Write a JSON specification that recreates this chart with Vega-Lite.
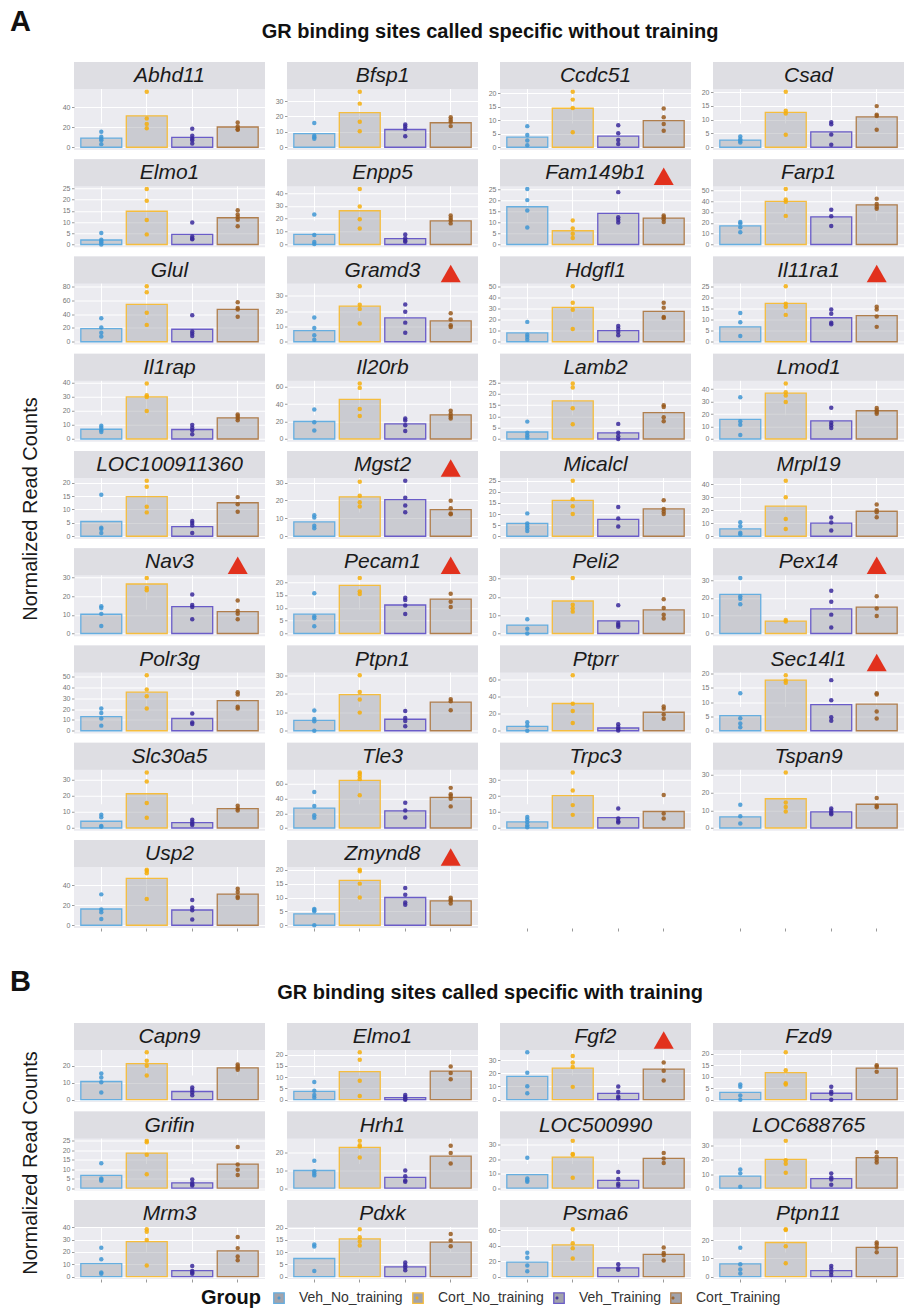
{
  "$schema": "https://vega.github.io/schema/vega-lite/v6.json",
  "padding": {"left": 10, "top": 8, "right": 0, "bottom": 0},
  "autosize": {"type": "pad"},
  "background": "white",
  "datasets": {
    "groups": [
      {"g": "VN", "group": "Veh_No_training"},
      {"g": "CN", "group": "Cort_No_training"},
      {"g": "VT", "group": "Veh_Training"},
      {"g": "CT", "group": "Cort_Training"}
    ],
    "a": [
      {"gene":"Abhd11","g":"VN","m":9.2},{"gene":"Abhd11","g":"VN","v":15.6},{"gene":"Abhd11","g":"VN","v":10.5},{"gene":"Abhd11","g":"VN","v":8.5},{"gene":"Abhd11","g":"VN","v":7.1},{"gene":"Abhd11","g":"VN","v":3.1},
      {"gene":"Abhd11","g":"CN","m":31.5},{"gene":"Abhd11","g":"CN","v":55.6},{"gene":"Abhd11","g":"CN","v":28.8},{"gene":"Abhd11","g":"CN","v":23.4},{"gene":"Abhd11","g":"CN","v":19},
      {"gene":"Abhd11","g":"VT","m":9.8},{"gene":"Abhd11","g":"VT","v":18.6},{"gene":"Abhd11","g":"VT","v":11.5},{"gene":"Abhd11","g":"VT","v":8.8},{"gene":"Abhd11","g":"VT","v":7.1},{"gene":"Abhd11","g":"VT","v":3.7},
      {"gene":"Abhd11","g":"CT","m":20.3},{"gene":"Abhd11","g":"CT","v":24.7},{"gene":"Abhd11","g":"CT","v":20.7},{"gene":"Abhd11","g":"CT","v":18},{"gene":"Abhd11","g":"CT","v":17.5},

      {"gene":"Bfsp1","g":"VN","m":8.8},{"gene":"Bfsp1","g":"VN","v":15.7},{"gene":"Bfsp1","g":"VN","v":7.5},{"gene":"Bfsp1","g":"VN","v":6.5},{"gene":"Bfsp1","g":"VN","v":5.5},
      {"gene":"Bfsp1","g":"CN","m":22.5},{"gene":"Bfsp1","g":"CN","v":36},{"gene":"Bfsp1","g":"CN","v":28.3},{"gene":"Bfsp1","g":"CN","v":16.6},{"gene":"Bfsp1","g":"CN","v":10.4},
      {"gene":"Bfsp1","g":"VT","m":11.5},{"gene":"Bfsp1","g":"VT","v":14.8},{"gene":"Bfsp1","g":"VT","v":13.5},{"gene":"Bfsp1","g":"VT","v":11.9},{"gene":"Bfsp1","g":"VT","v":7.1},
      {"gene":"Bfsp1","g":"CT","m":15.9},{"gene":"Bfsp1","g":"CT","v":19.4},{"gene":"Bfsp1","g":"CT","v":17.9},{"gene":"Bfsp1","g":"CT","v":16.6},{"gene":"Bfsp1","g":"CT","v":13.7},

      {"gene":"Ccdc51","g":"VN","m":3.7},{"gene":"Ccdc51","g":"VN","v":7.8},{"gene":"Ccdc51","g":"VN","v":4.5},{"gene":"Ccdc51","g":"VN","v":2.5},{"gene":"Ccdc51","g":"VN","v":0.7},
      {"gene":"Ccdc51","g":"CN","m":14.4},{"gene":"Ccdc51","g":"CN","v":20.5},{"gene":"Ccdc51","g":"CN","v":17.6},{"gene":"Ccdc51","g":"CN","v":14.5},{"gene":"Ccdc51","g":"CN","v":5.5},
      {"gene":"Ccdc51","g":"VT","m":4.1},{"gene":"Ccdc51","g":"VT","v":8.1},{"gene":"Ccdc51","g":"VT","v":5.2},{"gene":"Ccdc51","g":"VT","v":2.7},{"gene":"Ccdc51","g":"VT","v":1.2},
      {"gene":"Ccdc51","g":"CT","m":9.8},{"gene":"Ccdc51","g":"CT","v":14.3},{"gene":"Ccdc51","g":"CT","v":11.1},{"gene":"Ccdc51","g":"CT","v":8.6},{"gene":"Ccdc51","g":"CT","v":6.1},

      {"gene":"Csad","g":"VN","m":2.6},{"gene":"Csad","g":"VN","v":3.9},{"gene":"Csad","g":"VN","v":2.9},{"gene":"Csad","g":"VN","v":2.3},{"gene":"Csad","g":"VN","v":1.7},
      {"gene":"Csad","g":"CN","m":12.6},{"gene":"Csad","g":"CN","v":20.1},{"gene":"Csad","g":"CN","v":13.2},{"gene":"Csad","g":"CN","v":12.2},{"gene":"Csad","g":"CN","v":4.5},
      {"gene":"Csad","g":"VT","m":5.6},{"gene":"Csad","g":"VT","v":9.1},{"gene":"Csad","g":"VT","v":8.3},{"gene":"Csad","g":"VT","v":4.6},{"gene":"Csad","g":"VT","v":0.9},
      {"gene":"Csad","g":"CT","m":11},{"gene":"Csad","g":"CT","v":14.9},{"gene":"Csad","g":"CT","v":11.8},{"gene":"Csad","g":"CT","v":11.3},{"gene":"Csad","g":"CT","v":6.3},

      {"gene":"Elmo1","g":"VN","m":2},{"gene":"Elmo1","g":"VN","v":5.1},{"gene":"Elmo1","g":"VN","v":2.1},{"gene":"Elmo1","g":"VN","v":1.5},{"gene":"Elmo1","g":"VN","v":0.9},{"gene":"Elmo1","g":"VN","v":0},
      {"gene":"Elmo1","g":"CN","m":14.8},{"gene":"Elmo1","g":"CN","v":24.7},{"gene":"Elmo1","g":"CN","v":19.5},{"gene":"Elmo1","g":"CN","v":10.9},{"gene":"Elmo1","g":"CN","v":4.5},
      {"gene":"Elmo1","g":"VT","m":4.5},{"gene":"Elmo1","g":"VT","v":9.8},{"gene":"Elmo1","g":"VT","v":3.6},{"gene":"Elmo1","g":"VT","v":2.7},{"gene":"Elmo1","g":"VT","v":2.3},
      {"gene":"Elmo1","g":"CT","m":11.9},{"gene":"Elmo1","g":"CT","v":15.2},{"gene":"Elmo1","g":"CT","v":13.4},{"gene":"Elmo1","g":"CT","v":12.2},{"gene":"Elmo1","g":"CT","v":11},{"gene":"Elmo1","g":"CT","v":8.1},

      {"gene":"Enpp5","g":"VN","m":7.9},{"gene":"Enpp5","g":"VN","v":23.3},{"gene":"Enpp5","g":"VN","v":7.4},{"gene":"Enpp5","g":"VN","v":1.9},{"gene":"Enpp5","g":"VN","v":0.3},
      {"gene":"Enpp5","g":"CN","m":26.2},{"gene":"Enpp5","g":"CN","v":43.1},{"gene":"Enpp5","g":"CN","v":29.6},{"gene":"Enpp5","g":"CN","v":19.6},{"gene":"Enpp5","g":"CN","v":12.4},
      {"gene":"Enpp5","g":"VT","m":4.5},{"gene":"Enpp5","g":"VT","v":7.7},{"gene":"Enpp5","g":"VT","v":4.8},{"gene":"Enpp5","g":"VT","v":2.9},{"gene":"Enpp5","g":"VT","v":2.1},
      {"gene":"Enpp5","g":"CT","m":18.3},{"gene":"Enpp5","g":"CT","v":22.5},{"gene":"Enpp5","g":"CT","v":20.6},{"gene":"Enpp5","g":"CT","v":18.8},{"gene":"Enpp5","g":"CT","v":16.4},

      {"gene":"Fam149b1","flag":true},
      {"gene":"Fam149b1","g":"VN","m":17},{"gene":"Fam149b1","g":"VN","v":25},{"gene":"Fam149b1","g":"VN","v":20},{"gene":"Fam149b1","g":"VN","v":15.3},{"gene":"Fam149b1","g":"VN","v":7.7},
      {"gene":"Fam149b1","g":"CN","m":6.2},{"gene":"Fam149b1","g":"CN","v":10.8},{"gene":"Fam149b1","g":"CN","v":7.2},{"gene":"Fam149b1","g":"CN","v":4.8},{"gene":"Fam149b1","g":"CN","v":2.9},
      {"gene":"Fam149b1","g":"VT","m":14},{"gene":"Fam149b1","g":"VT","v":23.6},{"gene":"Fam149b1","g":"VT","v":12.3},{"gene":"Fam149b1","g":"VT","v":11.1},{"gene":"Fam149b1","g":"VT","v":9.9},
      {"gene":"Fam149b1","g":"CT","m":11.9},{"gene":"Fam149b1","g":"CT","v":13.1},{"gene":"Fam149b1","g":"CT","v":12.3},{"gene":"Fam149b1","g":"CT","v":11.4},{"gene":"Fam149b1","g":"CT","v":10.1},

      {"gene":"Farp1","g":"VN","m":17.1},{"gene":"Farp1","g":"VN","v":20.8},{"gene":"Farp1","g":"VN","v":19.3},{"gene":"Farp1","g":"VN","v":15.8},{"gene":"Farp1","g":"VN","v":11.2},
      {"gene":"Farp1","g":"CN","m":39.8},{"gene":"Farp1","g":"CN","v":51.2},{"gene":"Farp1","g":"CN","v":41.6},{"gene":"Farp1","g":"CN","v":39.4},{"gene":"Farp1","g":"CN","v":26.4},
      {"gene":"Farp1","g":"VT","m":25.5},{"gene":"Farp1","g":"VT","v":32},{"gene":"Farp1","g":"VT","v":26.1},{"gene":"Farp1","g":"VT","v":17.1},
      {"gene":"Farp1","g":"CT","m":36.6},{"gene":"Farp1","g":"CT","v":42.2},{"gene":"Farp1","g":"CT","v":37.3},{"gene":"Farp1","g":"CT","v":34.8},{"gene":"Farp1","g":"CT","v":32.9},

      {"gene":"Glul","g":"VN","m":18.9},{"gene":"Glul","g":"VN","v":34},{"gene":"Glul","g":"VN","v":20.5},{"gene":"Glul","g":"VN","v":13},{"gene":"Glul","g":"VN","v":7.5},
      {"gene":"Glul","g":"CN","m":53.9},{"gene":"Glul","g":"CN","v":80},{"gene":"Glul","g":"CN","v":71.4},{"gene":"Glul","g":"CN","v":41.7},{"gene":"Glul","g":"CN","v":24.3},
      {"gene":"Glul","g":"VT","m":18},{"gene":"Glul","g":"VT","v":38.3},{"gene":"Glul","g":"VT","v":14.6},{"gene":"Glul","g":"VT","v":11.7},{"gene":"Glul","g":"VT","v":8.3},
      {"gene":"Glul","g":"CT","m":46.6},{"gene":"Glul","g":"CT","v":56.8},{"gene":"Glul","g":"CT","v":48.5},{"gene":"Glul","g":"CT","v":46.5},{"gene":"Glul","g":"CT","v":36},

      {"gene":"Gramd3","flag":true},
      {"gene":"Gramd3","g":"VN","m":7.3},{"gene":"Gramd3","g":"VN","v":15.8},{"gene":"Gramd3","g":"VN","v":9},{"gene":"Gramd3","g":"VN","v":4.2},{"gene":"Gramd3","g":"VN","v":1.3},
      {"gene":"Gramd3","g":"CN","m":23.3},{"gene":"Gramd3","g":"CN","v":36.3},{"gene":"Gramd3","g":"CN","v":24.2},{"gene":"Gramd3","g":"CN","v":21.5},{"gene":"Gramd3","g":"CN","v":11.9},
      {"gene":"Gramd3","g":"VT","m":15.6},{"gene":"Gramd3","g":"VT","v":24.4},{"gene":"Gramd3","g":"VT","v":19.6},{"gene":"Gramd3","g":"VT","v":12.5},{"gene":"Gramd3","g":"VT","v":5.9},
      {"gene":"Gramd3","g":"CT","m":13.6},{"gene":"Gramd3","g":"CT","v":18.7},{"gene":"Gramd3","g":"CT","v":14.5},{"gene":"Gramd3","g":"CT","v":10.8},{"gene":"Gramd3","g":"CT","v":9.7},

      {"gene":"Hdgfl1","g":"VN","m":7.9},{"gene":"Hdgfl1","g":"VN","v":17.9},{"gene":"Hdgfl1","g":"VN","v":6.4},{"gene":"Hdgfl1","g":"VN","v":4.2},{"gene":"Hdgfl1","g":"VN","v":1.8},
      {"gene":"Hdgfl1","g":"CN","m":30.9},{"gene":"Hdgfl1","g":"CN","v":50},{"gene":"Hdgfl1","g":"CN","v":35.2},{"gene":"Hdgfl1","g":"CN","v":28.8},{"gene":"Hdgfl1","g":"CN","v":11.5},
      {"gene":"Hdgfl1","g":"VT","m":10},{"gene":"Hdgfl1","g":"VT","v":14.2},{"gene":"Hdgfl1","g":"VT","v":11.8},{"gene":"Hdgfl1","g":"VT","v":8.8},{"gene":"Hdgfl1","g":"VT","v":5.8},
      {"gene":"Hdgfl1","g":"CT","m":27.3},{"gene":"Hdgfl1","g":"CT","v":35.2},{"gene":"Hdgfl1","g":"CT","v":30.6},{"gene":"Hdgfl1","g":"CT","v":22.4},{"gene":"Hdgfl1","g":"CT","v":21.5},

      {"gene":"Il11ra1","flag":true},
      {"gene":"Il11ra1","g":"VN","m":6.7},{"gene":"Il11ra1","g":"VN","v":13},{"gene":"Il11ra1","g":"VN","v":8.8},{"gene":"Il11ra1","g":"VN","v":2.6},
      {"gene":"Il11ra1","g":"CN","m":17.3},{"gene":"Il11ra1","g":"CN","v":25},{"gene":"Il11ra1","g":"CN","v":17.1},{"gene":"Il11ra1","g":"CN","v":15.8},{"gene":"Il11ra1","g":"CN","v":12.1},
      {"gene":"Il11ra1","g":"VT","m":10.8},{"gene":"Il11ra1","g":"VT","v":14.5},{"gene":"Il11ra1","g":"VT","v":12.6},{"gene":"Il11ra1","g":"VT","v":8.6},{"gene":"Il11ra1","g":"VT","v":7.9},
      {"gene":"Il11ra1","g":"CT","m":11.8},{"gene":"Il11ra1","g":"CT","v":15.8},{"gene":"Il11ra1","g":"CT","v":14.5},{"gene":"Il11ra1","g":"CT","v":11.4},{"gene":"Il11ra1","g":"CT","v":6.7},

      {"gene":"Il1rap","g":"VN","m":6.9},{"gene":"Il1rap","g":"VN","v":9.3},{"gene":"Il1rap","g":"VN","v":7.9},{"gene":"Il1rap","g":"VN","v":6.2},{"gene":"Il1rap","g":"VN","v":5},
      {"gene":"Il1rap","g":"CN","m":29.8},{"gene":"Il1rap","g":"CN","v":39.3},{"gene":"Il1rap","g":"CN","v":31},{"gene":"Il1rap","g":"CN","v":29.8},{"gene":"Il1rap","g":"CN","v":19.8},
      {"gene":"Il1rap","g":"VT","m":6.7},{"gene":"Il1rap","g":"VT","v":10},{"gene":"Il1rap","g":"VT","v":7.9},{"gene":"Il1rap","g":"VT","v":6.2},{"gene":"Il1rap","g":"VT","v":3.3},
      {"gene":"Il1rap","g":"CT","m":15},{"gene":"Il1rap","g":"CT","v":17.4},{"gene":"Il1rap","g":"CT","v":16.2},{"gene":"Il1rap","g":"CT","v":14.8},{"gene":"Il1rap","g":"CT","v":13.3},

      {"gene":"Il20rb","g":"VN","m":20},{"gene":"Il20rb","g":"VN","v":33.8},{"gene":"Il20rb","g":"VN","v":19.2},{"gene":"Il20rb","g":"VN","v":9.6},
      {"gene":"Il20rb","g":"CN","m":45.4},{"gene":"Il20rb","g":"CN","v":63.5},{"gene":"Il20rb","g":"CN","v":58.5},{"gene":"Il20rb","g":"CN","v":34.2},{"gene":"Il20rb","g":"CN","v":26.2},
      {"gene":"Il20rb","g":"VT","m":17.3},{"gene":"Il20rb","g":"VT","v":23.5},{"gene":"Il20rb","g":"VT","v":21.2},{"gene":"Il20rb","g":"VT","v":15.8},{"gene":"Il20rb","g":"VT","v":9.2},
      {"gene":"Il20rb","g":"CT","m":27.7},{"gene":"Il20rb","g":"CT","v":32.3},{"gene":"Il20rb","g":"CT","v":28.5},{"gene":"Il20rb","g":"CT","v":25.8},{"gene":"Il20rb","g":"CT","v":23.5},

      {"gene":"Lamb2","g":"VN","m":3.1},{"gene":"Lamb2","g":"VN","v":7.7},{"gene":"Lamb2","g":"VN","v":2.8},{"gene":"Lamb2","g":"VN","v":1.5},{"gene":"Lamb2","g":"VN","v":0.6},
      {"gene":"Lamb2","g":"CN","m":16.9},{"gene":"Lamb2","g":"CN","v":24.6},{"gene":"Lamb2","g":"CN","v":22.8},{"gene":"Lamb2","g":"CN","v":13.6},{"gene":"Lamb2","g":"CN","v":6.5},
      {"gene":"Lamb2","g":"VT","m":2.7},{"gene":"Lamb2","g":"VT","v":6.7},{"gene":"Lamb2","g":"VT","v":2.8},{"gene":"Lamb2","g":"VT","v":1.2},{"gene":"Lamb2","g":"VT","v":0},
      {"gene":"Lamb2","g":"CT","m":11.7},{"gene":"Lamb2","g":"CT","v":15},{"gene":"Lamb2","g":"CT","v":14.2},{"gene":"Lamb2","g":"CT","v":9.6},{"gene":"Lamb2","g":"CT","v":7.9},

      {"gene":"Lmod1","g":"VN","m":15.7},{"gene":"Lmod1","g":"VN","v":33.5},{"gene":"Lmod1","g":"VN","v":14.3},{"gene":"Lmod1","g":"VN","v":11.4},{"gene":"Lmod1","g":"VN","v":3.2},
      {"gene":"Lmod1","g":"CN","m":36.8},{"gene":"Lmod1","g":"CN","v":44.6},{"gene":"Lmod1","g":"CN","v":37.6},{"gene":"Lmod1","g":"CN","v":34.9},{"gene":"Lmod1","g":"CN","v":29.7},
      {"gene":"Lmod1","g":"VT","m":14.6},{"gene":"Lmod1","g":"VT","v":25.1},{"gene":"Lmod1","g":"VT","v":13},{"gene":"Lmod1","g":"VT","v":11.1},{"gene":"Lmod1","g":"VT","v":8.9},
      {"gene":"Lmod1","g":"CT","m":22.7},{"gene":"Lmod1","g":"CT","v":24.9},{"gene":"Lmod1","g":"CT","v":23.2},{"gene":"Lmod1","g":"CT","v":21.6},{"gene":"Lmod1","g":"CT","v":20.3},

      {"gene":"LOC100911360","g":"VN","m":5.5},{"gene":"LOC100911360","g":"VN","v":15.5},{"gene":"LOC100911360","g":"VN","v":3.2},{"gene":"LOC100911360","g":"VN","v":2.7},{"gene":"LOC100911360","g":"VN","v":1.2},
      {"gene":"LOC100911360","g":"CN","m":14.8},{"gene":"LOC100911360","g":"CN","v":20.7},{"gene":"LOC100911360","g":"CN","v":18.5},{"gene":"LOC100911360","g":"CN","v":11},{"gene":"LOC100911360","g":"CN","v":8.9},
      {"gene":"LOC100911360","g":"VT","m":3.6},{"gene":"LOC100911360","g":"VT","v":5.7},{"gene":"LOC100911360","g":"VT","v":4.9},{"gene":"LOC100911360","g":"VT","v":4},{"gene":"LOC100911360","g":"VT","v":1.2},
      {"gene":"LOC100911360","g":"CT","m":12.5},{"gene":"LOC100911360","g":"CT","v":14.6},{"gene":"LOC100911360","g":"CT","v":11.9},{"gene":"LOC100911360","g":"CT","v":9.1},

      {"gene":"Mgst2","flag":true},
      {"gene":"Mgst2","g":"VN","m":8},{"gene":"Mgst2","g":"VN","v":11.7},{"gene":"Mgst2","g":"VN","v":10.4},{"gene":"Mgst2","g":"VN","v":5.8},{"gene":"Mgst2","g":"VN","v":4.5},
      {"gene":"Mgst2","g":"CN","m":22},{"gene":"Mgst2","g":"CN","v":30.4},{"gene":"Mgst2","g":"CN","v":22.6},{"gene":"Mgst2","g":"CN","v":19},{"gene":"Mgst2","g":"CN","v":16.6},
      {"gene":"Mgst2","g":"VT","m":20.5},{"gene":"Mgst2","g":"VT","v":31},{"gene":"Mgst2","g":"VT","v":21.5},{"gene":"Mgst2","g":"VT","v":17.2},{"gene":"Mgst2","g":"VT","v":13.4},
      {"gene":"Mgst2","g":"CT","m":14.9},{"gene":"Mgst2","g":"CT","v":19.8},{"gene":"Mgst2","g":"CT","v":15.7},{"gene":"Mgst2","g":"CT","v":12.7},{"gene":"Mgst2","g":"CT","v":12.3},

      {"gene":"Micalcl","g":"VN","m":5.8},{"gene":"Micalcl","g":"VN","v":10.3},{"gene":"Micalcl","g":"VN","v":5.8},{"gene":"Micalcl","g":"VN","v":4.7},{"gene":"Micalcl","g":"VN","v":3.6},{"gene":"Micalcl","g":"VN","v":2.4},
      {"gene":"Micalcl","g":"CN","m":16.2},{"gene":"Micalcl","g":"CN","v":25},{"gene":"Micalcl","g":"CN","v":16.7},{"gene":"Micalcl","g":"CN","v":13.5},{"gene":"Micalcl","g":"CN","v":10},
      {"gene":"Micalcl","g":"VT","m":7.6},{"gene":"Micalcl","g":"VT","v":13.2},{"gene":"Micalcl","g":"VT","v":8},{"gene":"Micalcl","g":"VT","v":4.4},
      {"gene":"Micalcl","g":"CT","m":12.3},{"gene":"Micalcl","g":"CT","v":16.2},{"gene":"Micalcl","g":"CT","v":12.3},{"gene":"Micalcl","g":"CT","v":11.1},{"gene":"Micalcl","g":"CT","v":10},

      {"gene":"Mrpl19","g":"VN","m":5.6},{"gene":"Mrpl19","g":"VN","v":10.8},{"gene":"Mrpl19","g":"VN","v":7.7},{"gene":"Mrpl19","g":"VN","v":2.6},{"gene":"Mrpl19","g":"VN","v":1.5},
      {"gene":"Mrpl19","g":"CN","m":23.1},{"gene":"Mrpl19","g":"CN","v":42.6},{"gene":"Mrpl19","g":"CN","v":30},{"gene":"Mrpl19","g":"CN","v":13.3},{"gene":"Mrpl19","g":"CN","v":5.6},
      {"gene":"Mrpl19","g":"VT","m":10},{"gene":"Mrpl19","g":"VT","v":14.4},{"gene":"Mrpl19","g":"VT","v":10.5},{"gene":"Mrpl19","g":"VT","v":4.4},
      {"gene":"Mrpl19","g":"CT","m":19.2},{"gene":"Mrpl19","g":"CT","v":24.4},{"gene":"Mrpl19","g":"CT","v":20},{"gene":"Mrpl19","g":"CT","v":18.5},{"gene":"Mrpl19","g":"CT","v":14.6},

      {"gene":"Nav3","flag":true},
      {"gene":"Nav3","g":"VN","m":10.3},{"gene":"Nav3","g":"VN","v":14.6},{"gene":"Nav3","g":"VN","v":13.7},{"gene":"Nav3","g":"VN","v":10.5},{"gene":"Nav3","g":"VN","v":4},
      {"gene":"Nav3","g":"CN","m":26.5},{"gene":"Nav3","g":"CN","v":29.7},{"gene":"Nav3","g":"CN","v":24.3},{"gene":"Nav3","g":"CN","v":23.2},
      {"gene":"Nav3","g":"VT","m":14.4},{"gene":"Nav3","g":"VT","v":20.9},{"gene":"Nav3","g":"VT","v":15.3},{"gene":"Nav3","g":"VT","v":14.2},{"gene":"Nav3","g":"VT","v":7.6},
      {"gene":"Nav3","g":"CT","m":11.7},{"gene":"Nav3","g":"CT","v":17.7},{"gene":"Nav3","g":"CT","v":12.1},{"gene":"Nav3","g":"CT","v":10.6},{"gene":"Nav3","g":"CT","v":7.6},

      {"gene":"Pecam1","flag":true},
      {"gene":"Pecam1","g":"VN","m":7.5},{"gene":"Pecam1","g":"VN","v":15.7},{"gene":"Pecam1","g":"VN","v":6.7},{"gene":"Pecam1","g":"VN","v":5.9},{"gene":"Pecam1","g":"VN","v":2.8},
      {"gene":"Pecam1","g":"CN","m":18.7},{"gene":"Pecam1","g":"CN","v":21.6},{"gene":"Pecam1","g":"CN","v":16.4},{"gene":"Pecam1","g":"CN","v":15.4},
      {"gene":"Pecam1","g":"VT","m":11.1},{"gene":"Pecam1","g":"VT","v":13.9},{"gene":"Pecam1","g":"VT","v":13},{"gene":"Pecam1","g":"VT","v":10.9},{"gene":"Pecam1","g":"VT","v":7.6},
      {"gene":"Pecam1","g":"CT","m":13.4},{"gene":"Pecam1","g":"CT","v":15.5},{"gene":"Pecam1","g":"CT","v":12.4},{"gene":"Pecam1","g":"CT","v":10.3},

      {"gene":"Peli2","g":"VN","m":4.6},{"gene":"Peli2","g":"VN","v":7.7},{"gene":"Peli2","g":"VN","v":2.6},{"gene":"Peli2","g":"VN","v":0},
      {"gene":"Peli2","g":"CN","m":17.7},{"gene":"Peli2","g":"CN","v":30.2},{"gene":"Peli2","g":"CN","v":15.7},{"gene":"Peli2","g":"CN","v":13.7},{"gene":"Peli2","g":"CN","v":11.9},
      {"gene":"Peli2","g":"VT","m":6.9},{"gene":"Peli2","g":"VT","v":15.4},{"gene":"Peli2","g":"VT","v":5.7},{"gene":"Peli2","g":"VT","v":4.6},{"gene":"Peli2","g":"VT","v":3.7},
      {"gene":"Peli2","g":"CT","m":12.8},{"gene":"Peli2","g":"CT","v":18.6},{"gene":"Peli2","g":"CT","v":13.9},{"gene":"Peli2","g":"CT","v":10.2},{"gene":"Peli2","g":"CT","v":8.2},

      {"gene":"Pex14","flag":true},
      {"gene":"Pex14","g":"VN","m":22},{"gene":"Pex14","g":"VN","v":31.2},{"gene":"Pex14","g":"VN","v":21},{"gene":"Pex14","g":"VN","v":19.5},{"gene":"Pex14","g":"VN","v":16.5},
      {"gene":"Pex14","g":"CN","m":7},{"gene":"Pex14","g":"CN","v":7.6},{"gene":"Pex14","g":"CN","v":6.8},
      {"gene":"Pex14","g":"VT","m":13.8},{"gene":"Pex14","g":"VT","v":24},{"gene":"Pex14","g":"VT","v":17.8},{"gene":"Pex14","g":"VT","v":10.6},{"gene":"Pex14","g":"VT","v":3.4},
      {"gene":"Pex14","g":"CT","m":14.8},{"gene":"Pex14","g":"CT","v":21},{"gene":"Pex14","g":"CT","v":14},{"gene":"Pex14","g":"CT","v":9.8},

      {"gene":"Polr3g","g":"VN","m":13.1},{"gene":"Polr3g","g":"VN","v":20.6},{"gene":"Polr3g","g":"VN","v":16.3},{"gene":"Polr3g","g":"VN","v":11.3},{"gene":"Polr3g","g":"VN","v":4.7},
      {"gene":"Polr3g","g":"CN","m":35.6},{"gene":"Polr3g","g":"CN","v":51.2},{"gene":"Polr3g","g":"CN","v":38.1},{"gene":"Polr3g","g":"CN","v":31.9},{"gene":"Polr3g","g":"CN","v":20.6},
      {"gene":"Polr3g","g":"VT","m":11.3},{"gene":"Polr3g","g":"VT","v":15.9},{"gene":"Polr3g","g":"VT","v":7.5},{"gene":"Polr3g","g":"VT","v":6.3},
      {"gene":"Polr3g","g":"CT","m":27.8},{"gene":"Polr3g","g":"CT","v":35.6},{"gene":"Polr3g","g":"CT","v":33.4},{"gene":"Polr3g","g":"CT","v":22.2},{"gene":"Polr3g","g":"CT","v":20.6},

      {"gene":"Ptpn1","g":"VN","m":5.6},{"gene":"Ptpn1","g":"VN","v":10.9},{"gene":"Ptpn1","g":"VN","v":6.4},{"gene":"Ptpn1","g":"VN","v":5.1},{"gene":"Ptpn1","g":"VN","v":0},
      {"gene":"Ptpn1","g":"CN","m":19.5},{"gene":"Ptpn1","g":"CN","v":30},{"gene":"Ptpn1","g":"CN","v":20.9},{"gene":"Ptpn1","g":"CN","v":16.9},{"gene":"Ptpn1","g":"CN","v":9.8},
      {"gene":"Ptpn1","g":"VT","m":6.2},{"gene":"Ptpn1","g":"VT","v":10.7},{"gene":"Ptpn1","g":"VT","v":6.9},{"gene":"Ptpn1","g":"VT","v":5.3},{"gene":"Ptpn1","g":"VT","v":2.4},
      {"gene":"Ptpn1","g":"CT","m":15.5},{"gene":"Ptpn1","g":"CT","v":17.1},{"gene":"Ptpn1","g":"CT","v":16},{"gene":"Ptpn1","g":"CT","v":11.1},

      {"gene":"Ptprr","g":"VN","m":5.1},{"gene":"Ptprr","g":"VN","v":9.9},{"gene":"Ptprr","g":"VN","v":5.9},{"gene":"Ptprr","g":"VN","v":0},
      {"gene":"Ptprr","g":"CN","m":32},{"gene":"Ptprr","g":"CN","v":65.2},{"gene":"Ptprr","g":"CN","v":31.6},{"gene":"Ptprr","g":"CN","v":23.3},{"gene":"Ptprr","g":"CN","v":9.1},
      {"gene":"Ptprr","g":"VT","m":3.2},{"gene":"Ptprr","g":"VT","v":7.5},{"gene":"Ptprr","g":"VT","v":4.3},{"gene":"Ptprr","g":"VT","v":2},{"gene":"Ptprr","g":"VT","v":0.4},
      {"gene":"Ptprr","g":"CT","m":21.7},{"gene":"Ptprr","g":"CT","v":28.5},{"gene":"Ptprr","g":"CT","v":25.7},{"gene":"Ptprr","g":"CT","v":19},{"gene":"Ptprr","g":"CT","v":14.2},

      {"gene":"Sec14l1","flag":true},
      {"gene":"Sec14l1","g":"VN","m":5.3},{"gene":"Sec14l1","g":"VN","v":13.1},{"gene":"Sec14l1","g":"VN","v":4.4},{"gene":"Sec14l1","g":"VN","v":2.5},{"gene":"Sec14l1","g":"VN","v":1.2},
      {"gene":"Sec14l1","g":"CN","m":17.7},{"gene":"Sec14l1","g":"CN","v":19.4},{"gene":"Sec14l1","g":"CN","v":17.6},{"gene":"Sec14l1","g":"CN","v":16.8},
      {"gene":"Sec14l1","g":"VT","m":9.1},{"gene":"Sec14l1","g":"VT","v":17.7},{"gene":"Sec14l1","g":"VT","v":10.7},{"gene":"Sec14l1","g":"VT","v":4.7},{"gene":"Sec14l1","g":"VT","v":3.5},
      {"gene":"Sec14l1","g":"CT","m":9.3},{"gene":"Sec14l1","g":"CT","v":13.1},{"gene":"Sec14l1","g":"CT","v":12.7},{"gene":"Sec14l1","g":"CT","v":6.7},{"gene":"Sec14l1","g":"CT","v":4.3},

      {"gene":"Slc30a5","g":"VN","m":4.2},{"gene":"Slc30a5","g":"VN","v":8.2},{"gene":"Slc30a5","g":"VN","v":6.7},{"gene":"Slc30a5","g":"VN","v":1.3},{"gene":"Slc30a5","g":"VN","v":0.8},
      {"gene":"Slc30a5","g":"CN","m":21.3},{"gene":"Slc30a5","g":"CN","v":34.5},{"gene":"Slc30a5","g":"CN","v":28.9},{"gene":"Slc30a5","g":"CN","v":15.5},{"gene":"Slc30a5","g":"CN","v":6.3},
      {"gene":"Slc30a5","g":"VT","m":3.3},{"gene":"Slc30a5","g":"VT","v":5.2},{"gene":"Slc30a5","g":"VT","v":3.8},{"gene":"Slc30a5","g":"VT","v":2.7},{"gene":"Slc30a5","g":"VT","v":1.9},
      {"gene":"Slc30a5","g":"CT","m":12.1},{"gene":"Slc30a5","g":"CT","v":13.8},{"gene":"Slc30a5","g":"CT","v":12.1},{"gene":"Slc30a5","g":"CT","v":10.9},

      {"gene":"Tle3","g":"VN","m":27},{"gene":"Tle3","g":"VN","v":49},{"gene":"Tle3","g":"VN","v":29.8},{"gene":"Tle3","g":"VN","v":17.4},{"gene":"Tle3","g":"VN","v":13.8},
      {"gene":"Tle3","g":"CN","m":64.7},{"gene":"Tle3","g":"CN","v":75.5},{"gene":"Tle3","g":"CN","v":73.6},{"gene":"Tle3","g":"CN","v":70.2},{"gene":"Tle3","g":"CN","v":66.5},{"gene":"Tle3","g":"CN","v":44.5},
      {"gene":"Tle3","g":"VT","m":23.4},{"gene":"Tle3","g":"VT","v":34.4},{"gene":"Tle3","g":"VT","v":23.9},{"gene":"Tle3","g":"VT","v":14.2},
      {"gene":"Tle3","g":"CT","m":41.7},{"gene":"Tle3","g":"CT","v":54.6},{"gene":"Tle3","g":"CT","v":45.9},{"gene":"Tle3","g":"CT","v":43.6},{"gene":"Tle3","g":"CT","v":39.9},{"gene":"Tle3","g":"CT","v":29.4},

      {"gene":"Trpc3","g":"VN","m":3.8},{"gene":"Trpc3","g":"VN","v":6.9},{"gene":"Trpc3","g":"VN","v":5.3},{"gene":"Trpc3","g":"VN","v":3.6},{"gene":"Trpc3","g":"VN","v":1.7},{"gene":"Trpc3","g":"VN","v":0.4},
      {"gene":"Trpc3","g":"CN","m":20.2},{"gene":"Trpc3","g":"CN","v":34.7},{"gene":"Trpc3","g":"CN","v":23.4},{"gene":"Trpc3","g":"CN","v":14.3},{"gene":"Trpc3","g":"CN","v":8.2},
      {"gene":"Trpc3","g":"VT","m":6.5},{"gene":"Trpc3","g":"VT","v":12.2},{"gene":"Trpc3","g":"VT","v":5.9},{"gene":"Trpc3","g":"VT","v":4.2},{"gene":"Trpc3","g":"VT","v":3.4},
      {"gene":"Trpc3","g":"CT","m":10.3},{"gene":"Trpc3","g":"CT","v":20.6},{"gene":"Trpc3","g":"CT","v":9.1},{"gene":"Trpc3","g":"CT","v":5.9},

      {"gene":"Tspan9","g":"VN","m":6.3},{"gene":"Tspan9","g":"VN","v":13.1},{"gene":"Tspan9","g":"VN","v":6.6},{"gene":"Tspan9","g":"VN","v":2.5},
      {"gene":"Tspan9","g":"CN","m":16.5},{"gene":"Tspan9","g":"CN","v":31.3},{"gene":"Tspan9","g":"CN","v":14.4},{"gene":"Tspan9","g":"CN","v":11.9},{"gene":"Tspan9","g":"CN","v":9.3},
      {"gene":"Tspan9","g":"VT","m":9.1},{"gene":"Tspan9","g":"VT","v":11},{"gene":"Tspan9","g":"VT","v":9.7},{"gene":"Tspan9","g":"VT","v":8.5},{"gene":"Tspan9","g":"VT","v":7.8},
      {"gene":"Tspan9","g":"CT","m":13.4},{"gene":"Tspan9","g":"CT","v":16.9},{"gene":"Tspan9","g":"CT","v":12.5},{"gene":"Tspan9","g":"CT","v":11.7},

      {"gene":"Usp2","g":"VN","m":16.3},{"gene":"Usp2","g":"VN","v":31},{"gene":"Usp2","g":"VN","v":15.7},{"gene":"Usp2","g":"VN","v":13},{"gene":"Usp2","g":"VN","v":6.3},
      {"gene":"Usp2","g":"CN","m":47},{"gene":"Usp2","g":"CN","v":55.7},{"gene":"Usp2","g":"CN","v":54.5},{"gene":"Usp2","g":"CN","v":52.3},{"gene":"Usp2","g":"CN","v":26.3},
      {"gene":"Usp2","g":"VT","m":15.3},{"gene":"Usp2","g":"VT","v":25.3},{"gene":"Usp2","g":"VT","v":17.7},{"gene":"Usp2","g":"VT","v":15},{"gene":"Usp2","g":"VT","v":5.7},
      {"gene":"Usp2","g":"CT","m":31.3},{"gene":"Usp2","g":"CT","v":36.7},{"gene":"Usp2","g":"CT","v":33.3},{"gene":"Usp2","g":"CT","v":28.7},{"gene":"Usp2","g":"CT","v":27.3},

      {"gene":"Zmynd8","flag":true},
      {"gene":"Zmynd8","g":"VN","m":4.1},{"gene":"Zmynd8","g":"VN","v":5.9},{"gene":"Zmynd8","g":"VN","v":5.5},{"gene":"Zmynd8","g":"VN","v":5},{"gene":"Zmynd8","g":"VN","v":0},
      {"gene":"Zmynd8","g":"CN","m":16.2},{"gene":"Zmynd8","g":"CN","v":20},{"gene":"Zmynd8","g":"CN","v":19.5},{"gene":"Zmynd8","g":"CN","v":15},{"gene":"Zmynd8","g":"CN","v":10},
      {"gene":"Zmynd8","g":"VT","m":10},{"gene":"Zmynd8","g":"VT","v":13.4},{"gene":"Zmynd8","g":"VT","v":11},{"gene":"Zmynd8","g":"VT","v":8.2},{"gene":"Zmynd8","g":"VT","v":7.4},
      {"gene":"Zmynd8","g":"CT","m":8.8},{"gene":"Zmynd8","g":"CT","v":9.9},{"gene":"Zmynd8","g":"CT","v":9.2},{"gene":"Zmynd8","g":"CT","v":8.8},{"gene":"Zmynd8","g":"CT","v":7.8}
    ],
    "b": [
      {"gene":"Capn9","g":"VN","m":10.7},{"gene":"Capn9","g":"VN","v":15.4},{"gene":"Capn9","g":"VN","v":13.1},{"gene":"Capn9","g":"VN","v":10.3},{"gene":"Capn9","g":"VN","v":4.2},
      {"gene":"Capn9","g":"CN","m":21.2},{"gene":"Capn9","g":"CN","v":27.9},{"gene":"Capn9","g":"CN","v":23},{"gene":"Capn9","g":"CN","v":20},{"gene":"Capn9","g":"CN","v":14.3},
      {"gene":"Capn9","g":"VT","m":4.8},{"gene":"Capn9","g":"VT","v":7.1},{"gene":"Capn9","g":"VT","v":5.7},{"gene":"Capn9","g":"VT","v":4.2},{"gene":"Capn9","g":"VT","v":2.6},
      {"gene":"Capn9","g":"CT","m":18.8},{"gene":"Capn9","g":"CT","v":20.8},{"gene":"Capn9","g":"CT","v":19.6},{"gene":"Capn9","g":"CT","v":18.6},{"gene":"Capn9","g":"CT","v":17.6},

      {"gene":"Elmo1","g":"VN","m":3.7},{"gene":"Elmo1","g":"VN","v":7.8},{"gene":"Elmo1","g":"VN","v":3.9},{"gene":"Elmo1","g":"VN","v":2.1},{"gene":"Elmo1","g":"VN","v":0.9},
      {"gene":"Elmo1","g":"CN","m":12.4},{"gene":"Elmo1","g":"CN","v":21},{"gene":"Elmo1","g":"CN","v":17.7},{"gene":"Elmo1","g":"CN","v":8.4},{"gene":"Elmo1","g":"CN","v":1.6},
      {"gene":"Elmo1","g":"VT","m":0.9},{"gene":"Elmo1","g":"VT","v":2.1},{"gene":"Elmo1","g":"VT","v":1.2},{"gene":"Elmo1","g":"VT","v":0.4},{"gene":"Elmo1","g":"VT","v":0},
      {"gene":"Elmo1","g":"CT","m":12.7},{"gene":"Elmo1","g":"CT","v":14.7},{"gene":"Elmo1","g":"CT","v":11.8},{"gene":"Elmo1","g":"CT","v":9.1},

      {"gene":"Fgf2","flag":true},
      {"gene":"Fgf2","g":"VN","m":17.6},{"gene":"Fgf2","g":"VN","v":35.9},{"gene":"Fgf2","g":"VN","v":20.4},{"gene":"Fgf2","g":"VN","v":10.2},{"gene":"Fgf2","g":"VN","v":4.8},
      {"gene":"Fgf2","g":"CN","m":23.9},{"gene":"Fgf2","g":"CN","v":33.1},{"gene":"Fgf2","g":"CN","v":28.2},{"gene":"Fgf2","g":"CN","v":24.7},{"gene":"Fgf2","g":"CN","v":9.7},
      {"gene":"Fgf2","g":"VT","m":4.8},{"gene":"Fgf2","g":"VT","v":9.9},{"gene":"Fgf2","g":"VT","v":5.9},{"gene":"Fgf2","g":"VT","v":2.3},{"gene":"Fgf2","g":"VT","v":1},
      {"gene":"Fgf2","g":"CT","m":23.2},{"gene":"Fgf2","g":"CT","v":28.2},{"gene":"Fgf2","g":"CT","v":21.9},{"gene":"Fgf2","g":"CT","v":14.5},

      {"gene":"Fzd9","g":"VN","m":3.2},{"gene":"Fzd9","g":"VN","v":6.6},{"gene":"Fzd9","g":"VN","v":5.6},{"gene":"Fzd9","g":"VN","v":1.8},{"gene":"Fzd9","g":"VN","v":0},
      {"gene":"Fzd9","g":"CN","m":11.8},{"gene":"Fzd9","g":"CN","v":20.7},{"gene":"Fzd9","g":"CN","v":12.9},{"gene":"Fzd9","g":"CN","v":7.2},{"gene":"Fzd9","g":"CN","v":6.6},
      {"gene":"Fzd9","g":"VT","m":2.8},{"gene":"Fzd9","g":"VT","v":5.6},{"gene":"Fzd9","g":"VT","v":3.5},{"gene":"Fzd9","g":"VT","v":2.6},{"gene":"Fzd9","g":"VT","v":0},
      {"gene":"Fzd9","g":"CT","m":13.8},{"gene":"Fzd9","g":"CT","v":15.1},{"gene":"Fzd9","g":"CT","v":14.4},{"gene":"Fzd9","g":"CT","v":12.2},

      {"gene":"Grifin","g":"VN","m":6.7},{"gene":"Grifin","g":"VN","v":13.1},{"gene":"Grifin","g":"VN","v":5.1},{"gene":"Grifin","g":"VN","v":4.4},{"gene":"Grifin","g":"VN","v":3.9},
      {"gene":"Grifin","g":"CN","m":18.4},{"gene":"Grifin","g":"CN","v":24.8},{"gene":"Grifin","g":"CN","v":24.1},{"gene":"Grifin","g":"CN","v":17.5},{"gene":"Grifin","g":"CN","v":7.3},
      {"gene":"Grifin","g":"VT","m":2.8},{"gene":"Grifin","g":"VT","v":4.6},{"gene":"Grifin","g":"VT","v":2.8},{"gene":"Grifin","g":"VT","v":1.9},{"gene":"Grifin","g":"VT","v":1.4},
      {"gene":"Grifin","g":"CT","m":12.6},{"gene":"Grifin","g":"CT","v":21.6},{"gene":"Grifin","g":"CT","v":12.4},{"gene":"Grifin","g":"CT","v":9.6},{"gene":"Grifin","g":"CT","v":6.9},

      {"gene":"Hrh1","g":"VN","m":9.8},{"gene":"Hrh1","g":"VN","v":15.2},{"gene":"Hrh1","g":"VN","v":9.4},{"gene":"Hrh1","g":"VN","v":8.1},{"gene":"Hrh1","g":"VN","v":7.1},
      {"gene":"Hrh1","g":"CN","m":22.7},{"gene":"Hrh1","g":"CN","v":26.3},{"gene":"Hrh1","g":"CN","v":23.8},{"gene":"Hrh1","g":"CN","v":23.1},{"gene":"Hrh1","g":"CN","v":17.1},
      {"gene":"Hrh1","g":"VT","m":6},{"gene":"Hrh1","g":"VT","v":9.8},{"gene":"Hrh1","g":"VT","v":6.6},{"gene":"Hrh1","g":"VT","v":4.3},{"gene":"Hrh1","g":"VT","v":3.6},
      {"gene":"Hrh1","g":"CT","m":17.8},{"gene":"Hrh1","g":"CT","v":23.6},{"gene":"Hrh1","g":"CT","v":19.5},{"gene":"Hrh1","g":"CT","v":13.7},

      {"gene":"LOC500990","g":"VN","m":9.3},{"gene":"LOC500990","g":"VN","v":20.9},{"gene":"LOC500990","g":"VN","v":6.7},{"gene":"LOC500990","g":"VN","v":5.3},{"gene":"LOC500990","g":"VN","v":4.4},
      {"gene":"LOC500990","g":"CN","m":21.4},{"gene":"LOC500990","g":"CN","v":32.6},{"gene":"LOC500990","g":"CN","v":23.5},{"gene":"LOC500990","g":"CN","v":23},{"gene":"LOC500990","g":"CN","v":7.2},
      {"gene":"LOC500990","g":"VT","m":5.3},{"gene":"LOC500990","g":"VT","v":11.2},{"gene":"LOC500990","g":"VT","v":6.3},{"gene":"LOC500990","g":"VT","v":3},{"gene":"LOC500990","g":"VT","v":1.6},
      {"gene":"LOC500990","g":"CT","m":20.5},{"gene":"LOC500990","g":"CT","v":24.2},{"gene":"LOC500990","g":"CT","v":20.5},{"gene":"LOC500990","g":"CT","v":17.4},

      {"gene":"LOC688765","g":"VN","m":8.6},{"gene":"LOC688765","g":"VN","v":13.3},{"gene":"LOC688765","g":"VN","v":10.5},{"gene":"LOC688765","g":"VN","v":1},
      {"gene":"LOC688765","g":"CN","m":20.5},{"gene":"LOC688765","g":"CN","v":33.6},{"gene":"LOC688765","g":"CN","v":19.8},{"gene":"LOC688765","g":"CN","v":17.4},{"gene":"LOC688765","g":"CN","v":11},
      {"gene":"LOC688765","g":"VT","m":6.7},{"gene":"LOC688765","g":"VT","v":10.5},{"gene":"LOC688765","g":"VT","v":7.6},{"gene":"LOC688765","g":"VT","v":6.2},{"gene":"LOC688765","g":"VT","v":2.4},
      {"gene":"LOC688765","g":"CT","m":21.7},{"gene":"LOC688765","g":"CT","v":25.5},{"gene":"LOC688765","g":"CT","v":22.4},{"gene":"LOC688765","g":"CT","v":20.2},{"gene":"LOC688765","g":"CT","v":18.3},

      {"gene":"Mrm3","g":"VN","m":10.6},{"gene":"Mrm3","g":"VN","v":23.4},{"gene":"Mrm3","g":"VN","v":14.1},{"gene":"Mrm3","g":"VN","v":3.3},{"gene":"Mrm3","g":"VN","v":2.4},
      {"gene":"Mrm3","g":"CN","m":28.3},{"gene":"Mrm3","g":"CN","v":38.3},{"gene":"Mrm3","g":"CN","v":36.4},{"gene":"Mrm3","g":"CN","v":29.6},{"gene":"Mrm3","g":"CN","v":9},
      {"gene":"Mrm3","g":"VT","m":4.9},{"gene":"Mrm3","g":"VT","v":8.7},{"gene":"Mrm3","g":"VT","v":4.6},{"gene":"Mrm3","g":"VT","v":3.3},{"gene":"Mrm3","g":"VT","v":2.4},
      {"gene":"Mrm3","g":"CT","m":20.9},{"gene":"Mrm3","g":"CT","v":32.1},{"gene":"Mrm3","g":"CT","v":23.1},{"gene":"Mrm3","g":"CT","v":16.3},{"gene":"Mrm3","g":"CT","v":13.3},

      {"gene":"Pdxk","g":"VN","m":7.4},{"gene":"Pdxk","g":"VN","v":13.1},{"gene":"Pdxk","g":"VN","v":12.3},{"gene":"Pdxk","g":"VN","v":2.3},
      {"gene":"Pdxk","g":"CN","m":15.4},{"gene":"Pdxk","g":"CN","v":19.3},{"gene":"Pdxk","g":"CN","v":16.1},{"gene":"Pdxk","g":"CN","v":14.3},{"gene":"Pdxk","g":"CN","v":12.7},
      {"gene":"Pdxk","g":"VT","m":4},{"gene":"Pdxk","g":"VT","v":5.8},{"gene":"Pdxk","g":"VT","v":4.7},{"gene":"Pdxk","g":"VT","v":3.7},{"gene":"Pdxk","g":"VT","v":2.6},
      {"gene":"Pdxk","g":"CT","m":14.1},{"gene":"Pdxk","g":"CT","v":17.4},{"gene":"Pdxk","g":"CT","v":14.8},{"gene":"Pdxk","g":"CT","v":12.4},

      {"gene":"Psma6","g":"VN","m":18.7},{"gene":"Psma6","g":"VN","v":30.9},{"gene":"Psma6","g":"VN","v":24.3},{"gene":"Psma6","g":"VN","v":14.3},{"gene":"Psma6","g":"VN","v":7},
      {"gene":"Psma6","g":"CN","m":40.9},{"gene":"Psma6","g":"CN","v":60.9},{"gene":"Psma6","g":"CN","v":43},{"gene":"Psma6","g":"CN","v":36.5},{"gene":"Psma6","g":"CN","v":23.5},
      {"gene":"Psma6","g":"VT","m":11.3},{"gene":"Psma6","g":"VT","v":16.1},{"gene":"Psma6","g":"VT","v":10.9},{"gene":"Psma6","g":"VT","v":8.7},
      {"gene":"Psma6","g":"CT","m":28.7},{"gene":"Psma6","g":"CT","v":37.4},{"gene":"Psma6","g":"CT","v":30.4},{"gene":"Psma6","g":"CT","v":27.8},{"gene":"Psma6","g":"CT","v":20.9},

      {"gene":"Ptpn11","g":"VN","m":7},{"gene":"Ptpn11","g":"VN","v":15.8},{"gene":"Ptpn11","g":"VN","v":6.8},{"gene":"Ptpn11","g":"VN","v":3.9},{"gene":"Ptpn11","g":"VN","v":1.7},
      {"gene":"Ptpn11","g":"CN","m":18.7},{"gene":"Ptpn11","g":"CN","v":25.9},{"gene":"Ptpn11","g":"CN","v":25.5},{"gene":"Ptpn11","g":"CN","v":16.7},{"gene":"Ptpn11","g":"CN","v":7.3},
      {"gene":"Ptpn11","g":"VT","m":3.3},{"gene":"Ptpn11","g":"VT","v":5.9},{"gene":"Ptpn11","g":"VT","v":4.4},{"gene":"Ptpn11","g":"VT","v":2.6},{"gene":"Ptpn11","g":"VT","v":0.9},
      {"gene":"Ptpn11","g":"CT","m":16},{"gene":"Ptpn11","g":"CT","v":18.7},{"gene":"Ptpn11","g":"CT","v":17.6},{"gene":"Ptpn11","g":"CT","v":15.8},{"gene":"Ptpn11","g":"CT","v":13.4}
    ]
  },
  "vconcat": [
    {
      "hconcat": [
        {
          "width": 42,
          "height": 866,
          "data": {"values": [{"t": "Normalized Read Counts"}]},
          "title": {"text": "A", "fontSize": 29, "fontWeight": "bold", "anchor": "start", "baseline": "alphabetic", "offset": 2, "color": "#111111"},
          "mark": {"type": "text", "angle": 270, "fontSize": 20, "color": "#1a1a1a", "dx": -14},
          "encoding": {"text": {"field": "t"}}
        },
        {
          "data": {"name": "a"},
          "transform": [{"lookup": "g", "from": {"data": {"name": "groups"}, "key": "g", "fields": ["group"]}}],
          "title": {"text": "GR binding sites called specific without training", "fontSize": 20, "fontWeight": "bold", "anchor": "middle", "baseline": "alphabetic", "offset": 4, "dx": 7, "color": "#111111"},
          "facet": {
            "field": "gene", "type": "nominal",
            "header": {"labels": false, "labelExpr": "''", "labelFontSize": 0, "title": null, "labelPadding": 0, "titlePadding": 0},
            "sort": ["Abhd11","Bfsp1","Ccdc51","Csad","Elmo1","Enpp5","Fam149b1","Farp1","Glul","Gramd3","Hdgfl1","Il11ra1","Il1rap","Il20rb","Lamb2","Lmod1","LOC100911360","Mgst2","Micalcl","Mrpl19","Nav3","Pecam1","Peli2","Pex14","Polr3g","Ptpn1","Ptprr","Sec14l1","Slc30a5","Tle3","Trpc3","Tspan9","Usp2","Zmynd8"]
          },
          "columns": 4,
          "spacing": {"row": 9.25, "column": 22},
          "bounds": "flush",
          "resolve": {"scale": {"y": "independent"}},
          "spec": {
            "width": 191,
            "height": 88,
            "view": {"fill": "#ebebf0", "stroke": null},
            "layer": [
              {
                "transform": [{"filter": "isValid(datum.m)"}],
                "mark": {"type": "bar", "fill": "#a2a3ab", "fillOpacity": 0.45, "strokeWidth": 1.3},
                "encoding": {
                  "x": {"field": "group", "type": "nominal",
                        "scale": {"domain": ["Veh_No_training", "Cort_No_training", "Veh_Training", "Cort_Training"], "paddingInner": 0.1, "paddingOuter": 0.15},
                        "axis": {"title": null, "labels": false, "domain": false, "ticks": true, "tickSize": 3, "tickColor": "#9a9a9a", "grid": true, "gridColor": "#ffffff", "gridWidth": 1, "bandPosition": 0.5}},
                  "y": {"field": "m", "type": "quantitative",
                        "scale": {"zero": true, "nice": false, "padding": 2.77, "range": [88, 27]},
                        "axis": {"title": null, "tickCount": 4, "labelFontSize": 7, "labelColor": "#777777", "tickColor": "#9a9a9a", "tickSize": 2.5, "labelPadding": 1.5, "domain": false, "grid": true, "gridColor": "#ffffff", "gridWidth": 1}},
                  "stroke": {"field": "group", "type": "nominal",
                             "scale": {"domain": ["Veh_No_training", "Cort_No_training", "Veh_Training", "Cort_Training"], "range": ["#66aee0", "#f5bd3e", "#6a5cc8", "#b07e4c"]},
                             "legend": {"title": "Group", "orient": "none", "legendX": 191, "legendY": 1229, "direction": "horizontal", "titleOrient": "left", "titleFontSize": 20, "titleFontWeight": "bold", "titleColor": "#111111", "titlePadding": 11, "titleBaseline": "middle", "labelFontSize": 14, "labelColor": "#333333", "labelOffset": 13, "columnPadding": 7, "symbolType": "square", "symbolSize": 110, "symbolFillColor": "#d3d4da", "symbolStrokeWidth": 1.3,
                                        "values": ["Veh_No_training", "Cort_No_training", "Veh_Training", "Cort_Training"]}}
                }
              },
              {
                "transform": [{"filter": "isValid(datum.v)"}],
                "mark": {"type": "circle", "size": 20, "opacity": 0.85},
                "encoding": {
                  "x": {"field": "group", "type": "nominal"},
                  "y": {"field": "v", "type": "quantitative"},
                  "color": {"field": "group", "type": "nominal",
                            "scale": {"domain": ["Cort_No_training", "Cort_Training", "Veh_No_training", "Veh_Training"], "range": ["#f4ae0c", "#98591c", "#3f97d3", "#39299b"]},
                            "legend": {"title": "Group", "orient": "none", "legendX": 191, "legendY": 1229, "direction": "horizontal", "titleOrient": "left", "titleFontSize": 20, "titleFontWeight": "bold", "titleOpacity": 0, "titlePadding": 11, "titleBaseline": "middle", "labelFontSize": 14, "labelOpacity": 0, "labelOffset": 13, "columnPadding": 7, "symbolType": "M-0.3,0A0.3,0.3,0,1,1,0.3,0A0.3,0.3,0,1,1,-0.3,0Z", "symbolSize": 110, "symbolStrokeWidth": 0,
                                       "values": ["Veh_No_training", "Cort_No_training", "Veh_Training", "Cort_Training"]}}
                }
              },
              {
                "transform": [{"filter": "datum.g === 'VN' && isValid(datum.m)"}],
                "mark": {"type": "rect", "x": 0, "x2": "width", "y": 0, "y2": 27, "fill": "#dedee3"},
                "encoding": {}
              },
              {
                "transform": [{"filter": "datum.g === 'VN' && isValid(datum.m)"}],
                "mark": {"type": "text", "y": 14, "baseline": "middle", "align": "center", "fontSize": 21, "fontStyle": "italic", "color": "#1a1a1a"},
                "encoding": {"text": {"field": "gene"}}
              },
              {
                "transform": [{"filter": "datum.flag === true"}],
                "mark": {"type": "point", "shape": "triangle-up", "filled": true, "size": 400, "color": "#e2311d", "opacity": 1, "y": 17},
                "encoding": {"x": {"datum": "Cort_Training", "type": "nominal"}}
              }
            ]
          }
        }
      ],
      "spacing": 22,
      "bounds": "flush"
    },
    {
      "hconcat": [
        {
          "width": 42,
          "height": 256,
          "data": {"values": [{"t": "Normalized Read Counts"}]},
          "title": {"text": "B", "fontSize": 29, "fontWeight": "bold", "anchor": "start", "baseline": "alphabetic", "offset": 3, "color": "#111111"},
          "mark": {"type": "text", "angle": 270, "fontSize": 20, "color": "#1a1a1a", "dx": -12},
          "encoding": {"text": {"field": "t"}}
        },
        {
          "data": {"name": "b"},
          "transform": [{"lookup": "g", "from": {"data": {"name": "groups"}, "key": "g", "fields": ["group"]}}],
          "title": {"text": "GR binding sites called specific with training", "fontSize": 20, "fontWeight": "bold", "anchor": "middle", "baseline": "alphabetic", "offset": 4, "dx": 7, "color": "#111111"},
          "facet": {
            "field": "gene", "type": "nominal",
            "header": {"labels": false, "labelExpr": "''", "labelFontSize": 0, "title": null, "labelPadding": 0, "titlePadding": 0},
            "sort": ["Capn9","Elmo1","Fgf2","Fzd9","Grifin","Hrh1","LOC500990","LOC688765","Mrm3","Pdxk","Psma6","Ptpn11"]
          },
          "columns": 4,
          "spacing": {"row": 9.5, "column": 22},
          "bounds": "flush",
          "resolve": {"scale": {"y": "independent"}},
          "spec": {
            "width": 191,
            "height": 79,
            "view": {"fill": "#ebebf0", "stroke": null},
            "layer": [
              {
                "transform": [{"filter": "isValid(datum.m)"}],
                "mark": {"type": "bar", "fill": "#a2a3ab", "fillOpacity": 0.45, "strokeWidth": 1.3},
                "encoding": {
                  "x": {"field": "group", "type": "nominal",
                        "scale": {"domain": ["Veh_No_training", "Cort_No_training", "Veh_Training", "Cort_Training"], "paddingInner": 0.1, "paddingOuter": 0.15},
                        "axis": {"title": null, "labels": false, "domain": false, "ticks": true, "tickSize": 3, "tickColor": "#9a9a9a", "grid": true, "gridColor": "#ffffff", "gridWidth": 1, "bandPosition": 0.5}},
                  "y": {"field": "m", "type": "quantitative",
                        "scale": {"zero": true, "nice": false, "padding": 2.36, "range": [79, 27]},
                        "axis": {"title": null, "tickCount": 4, "labelFontSize": 7, "labelColor": "#777777", "tickColor": "#9a9a9a", "tickSize": 2.5, "labelPadding": 1.5, "domain": false, "grid": true, "gridColor": "#ffffff", "gridWidth": 1}},
                  "stroke": {"field": "group", "type": "nominal",
                             "scale": {"domain": ["Veh_No_training", "Cort_No_training", "Veh_Training", "Cort_Training"], "range": ["#66aee0", "#f5bd3e", "#6a5cc8", "#b07e4c"]}}
                }
              },
              {
                "transform": [{"filter": "isValid(datum.v)"}],
                "mark": {"type": "circle", "size": 20, "opacity": 0.85},
                "encoding": {
                  "x": {"field": "group", "type": "nominal"},
                  "y": {"field": "v", "type": "quantitative"},
                  "color": {"field": "group", "type": "nominal",
                            "scale": {"domain": ["Cort_No_training", "Cort_Training", "Veh_No_training", "Veh_Training"], "range": ["#f4ae0c", "#98591c", "#3f97d3", "#39299b"]}}
                }
              },
              {
                "transform": [{"filter": "datum.g === 'VN' && isValid(datum.m)"}],
                "mark": {"type": "rect", "x": 0, "x2": "width", "y": 0, "y2": 27, "fill": "#dedee3"},
                "encoding": {}
              },
              {
                "transform": [{"filter": "datum.g === 'VN' && isValid(datum.m)"}],
                "mark": {"type": "text", "y": 14, "baseline": "middle", "align": "center", "fontSize": 21, "fontStyle": "italic", "color": "#1a1a1a"},
                "encoding": {"text": {"field": "gene"}}
              },
              {
                "transform": [{"filter": "datum.flag === true"}],
                "mark": {"type": "point", "shape": "triangle-up", "filled": true, "size": 400, "color": "#e2311d", "opacity": 1, "y": 17},
                "encoding": {"x": {"datum": "Cort_Training", "type": "nominal"}}
              }
            ]
          }
        }
      ],
      "spacing": 22,
      "bounds": "flush"
    }
  ],
  "spacing": 36,
  "bounds": "full",
  "config": {
    "font": "Liberation Sans",
    "view": {"stroke": null},
    "header": {"labels": false, "labelFontSize": 0, "labelPadding": 0},
    "axis": {"labelFont": "Liberation Sans"},
    "legend": {"labelFont": "Liberation Sans", "titleFont": "Liberation Sans"}
  }
}
